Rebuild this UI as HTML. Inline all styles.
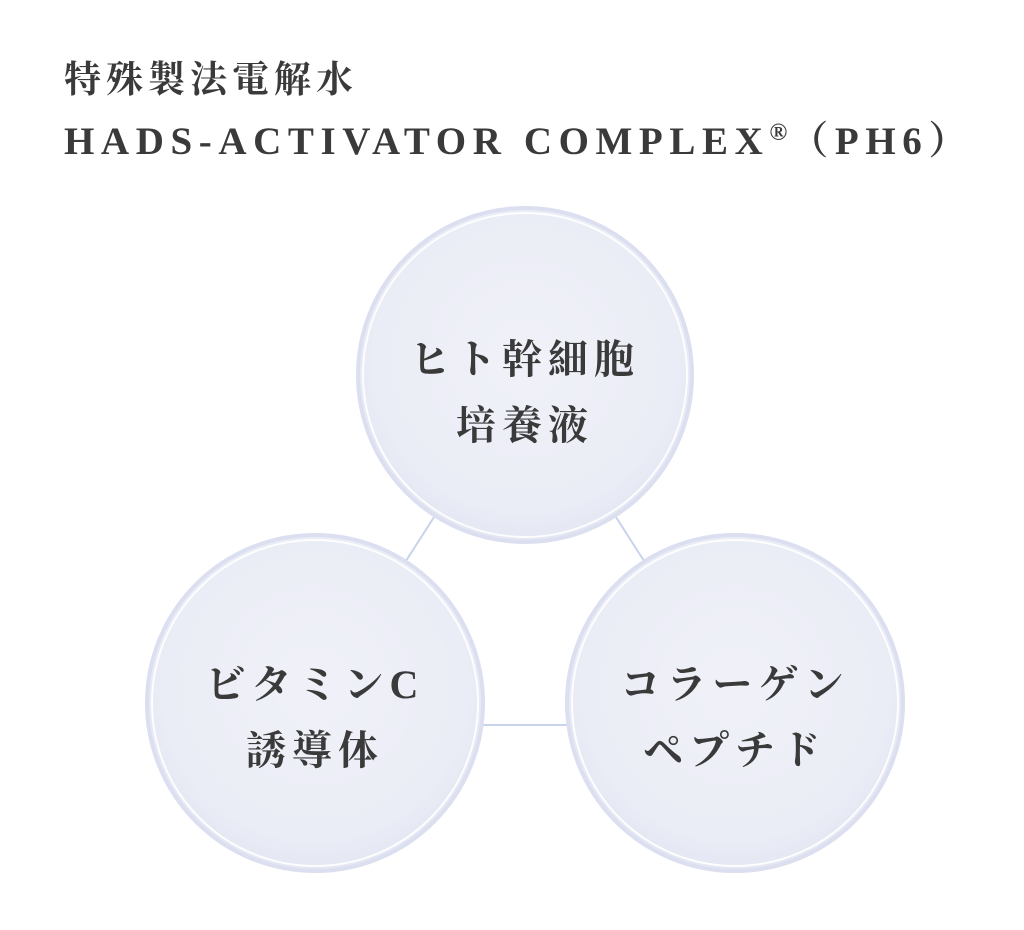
<!DOCTYPE html>
<html><head><meta charset="utf-8"><style>
html,body{margin:0;padding:0;background:#fff;}
body{width:1024px;height:930px;position:relative;overflow:hidden;font-family:"Liberation Serif","Noto Serif CJK SC",serif;color:#3a3a3a;}
.t{position:absolute;font-weight:bold;white-space:nowrap;}
</style></head><body>
<svg width="1024" height="930" style="position:absolute;left:0;top:0">
<defs>
<radialGradient id="g" cx="50%" cy="45%" r="55%">
<stop offset="0%" stop-color="#f0f1f8"/>
<stop offset="80%" stop-color="#ebedf6"/>
<stop offset="100%" stop-color="#e4e7f3"/>
</radialGradient>
</defs>
<g stroke="#c8d4ec" stroke-width="2">
<line x1="525" y1="375" x2="315" y2="703"/>
<line x1="525" y1="375" x2="735" y2="703"/>
<line x1="315" y1="725" x2="735" y2="725"/>
</g>
<g fill="url(#g)" stroke="#dcdff0" stroke-width="4">
<circle cx="525" cy="375" r="167"/>
<circle cx="315" cy="703" r="168"/>
<circle cx="735" cy="703" r="168"/>
</g>
<g fill="none" stroke="#ffffff" stroke-width="2" opacity="0.9">
<circle cx="525" cy="375" r="162"/>
<circle cx="315" cy="703" r="163"/>
<circle cx="735" cy="703" r="163"/>
</g>
</svg>
<div class="t" style="left:64px;top:49px;font-size:37px;letter-spacing:5px;">特殊製法電解水</div>
<div class="t" style="left:64px;top:110px;font-size:39px;letter-spacing:6.6px;">HADS-ACTIVATOR COMPLEX<span style="font-size:24px;vertical-align:14px;letter-spacing:2px">®</span>（PH6）</div>
<div class="t" style="left:325px;width:400px;text-align:center;top:327px;font-size:40px;letter-spacing:6px;line-height:66px;">ヒト幹細胞<br>培養液</div>
<div class="t" style="left:115px;width:400px;text-align:center;top:652px;font-size:40px;letter-spacing:6px;line-height:66px;">ビタミンC<br>誘導体</div>
<div class="t" style="left:535px;width:400px;text-align:center;top:652px;font-size:40px;letter-spacing:6px;line-height:66px;">コラーゲン<br>ペプチド</div>
</body></html>
